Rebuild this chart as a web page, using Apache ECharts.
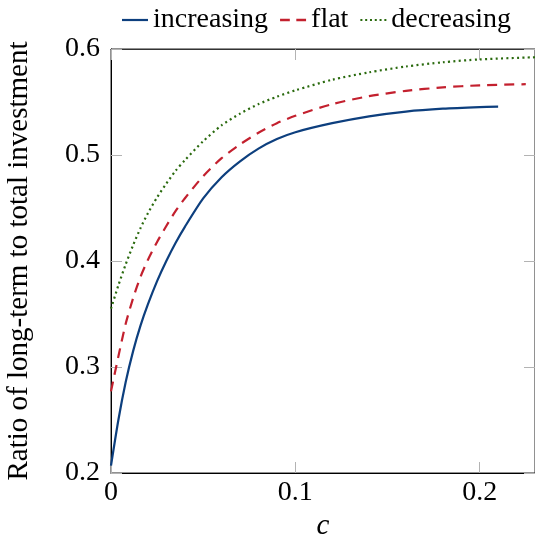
<!DOCTYPE html>
<html>
<head>
<meta charset="utf-8">
<script src="https://cdn.jsdelivr.net/npm/echarts@6/dist/echarts.min.js"></script>
<style>
  html, body { margin: 0; padding: 0; background: #fff; }
  #chart { width: 535px; height: 540px; }
</style>
</head>
<body>
<div id="chart"></div>
<script>
// Cost parameter c for each scenario
const cIncreasing = [0, 0.004, 0.008, 0.012, 0.016, 0.02, 0.025, 0.03, 0.035, 0.04, 0.05, 0.06, 0.07, 0.08, 0.09, 0.1, 0.12, 0.14, 0.16, 0.18, 0.2, 0.21];
const cFlat       = [0, 0.004, 0.008, 0.012, 0.016, 0.02, 0.025, 0.03, 0.035, 0.04, 0.05, 0.06, 0.07, 0.08, 0.09, 0.1, 0.12, 0.14, 0.16, 0.18, 0.2, 0.225];
const cDecreasing = [0, 0.004, 0.008, 0.012, 0.016, 0.02, 0.025, 0.03, 0.035, 0.04, 0.05, 0.06, 0.07, 0.08, 0.09, 0.1, 0.12, 0.14, 0.16, 0.18, 0.2, 0.23];

// Ratio of long-term to total investment
const ratioIncreasing = [0.207, 0.250, 0.286, 0.315, 0.339, 0.359, 0.381, 0.400, 0.417, 0.432, 0.459, 0.479, 0.494, 0.506, 0.515, 0.5215, 0.530, 0.5365, 0.541, 0.5437, 0.5452, 0.5456];
const ratioFlat       = [0.277, 0.310, 0.341, 0.365, 0.385, 0.401, 0.418, 0.433, 0.447, 0.459, 0.480, 0.497, 0.510, 0.521, 0.530, 0.537, 0.548, 0.5555, 0.5605, 0.5638, 0.5657, 0.5668];
const ratioDecreasing = [0.355, 0.377, 0.397, 0.415, 0.431, 0.445, 0.460, 0.473, 0.485, 0.495, 0.513, 0.528, 0.539, 0.548, 0.555, 0.561, 0.571, 0.578, 0.5835, 0.5875, 0.5902, 0.5922];

const seriesNames = ['increasing', 'flat', 'decreasing'];
const xTicks = [0, 0.1, 0.2];
const yTicks = [0.2, 0.3, 0.4, 0.5, 0.6];

const COLORS = ['#0d3f7e', '#c3202e', '#2a6a0e'];
// Legend keys: a solid bar, two dashes, a row of dots
const LEGEND_ICONS = [
  'path://M0,0h26v2.2h-26z',
  'path://M0,0h9v2.2h-9z M15,0h9v2.2h-9z',
  'path://M0,0h2v2h-2z M4.8,0h2v2h-2z M9.6,0h2v2h-2z M14.4,0h2v2h-2z M19.2,0h2v2h-2z M24,0h2v2h-2z'
];

const pairs = (xs, ys) => xs.map((x, i) => [x, ys[i]]);

const FONT = 'Liberation Serif';
const TICK_COLOR = '#b3b3b3';

const baseX = {
  type: 'value', min: 0, max: 0.23, interval: 0.1,
  splitLine: { show: false },
  axisLine: { show: true, onZero: false, lineStyle: { color: '#000', width: 1 } },
  axisTick: { show: true, inside: true, length: 11, lineStyle: { color: TICK_COLOR, width: 1 } }
};
const baseY = {
  type: 'value', min: 0.2, max: 0.6, interval: 0.1,
  splitLine: { show: false },
  axisLine: { show: true, onZero: false, lineStyle: { color: '#000', width: 1 } },
  axisTick: { show: true, inside: true, length: 11, lineStyle: { color: TICK_COLOR, width: 1 } }
};

const chart = echarts.init(document.getElementById('chart'), null, { renderer: 'canvas' });
chart.setOption({
  animation: false,
  backgroundColor: '#fff',
  textStyle: { fontFamily: FONT },
  grid: {
    left: 111, top: 49, right: 0, bottom: 67, containLabel: false, outerBoundsMode: 'none',
    show: true, borderColor: '#222', borderWidth: 1, backgroundColor: 'transparent'
  },
  legend: {
    top: 1, left: 117,
    data: seriesNames.map((n, i) => ({ name: n, icon: LEGEND_ICONS[i] })),
    itemWidth: 26, itemHeight: 14, itemGap: 12,
    textStyle: { fontFamily: FONT, fontSize: 28, color: '#000' }
  },
  xAxis: [
    Object.assign({}, baseX, {
      position: 'bottom',
      name: 'c', nameLocation: 'middle', nameGap: 39,
      nameTextStyle: { fontFamily: FONT, fontSize: 29, fontStyle: 'italic', color: '#000' },
      axisLabel: {
        show: true, margin: 6, fontSize: 28, color: '#000', fontFamily: FONT,
        formatter: v => (xTicks.some(t => Math.abs(t - v) < 1e-9) ? String(+v.toFixed(2)) : '')
      }
    }),
    Object.assign({}, baseX, {
      position: 'top', axisLabel: { show: false },
      axisLine: { show: true, onZero: false, lineStyle: { color: '#333', width: 1 } }
    })
  ],
  yAxis: [
    Object.assign({}, baseY, {
      position: 'left',
      name: 'Ratio of long-term to total investment', nameLocation: 'middle', nameGap: 77,
      nameTextStyle: { fontFamily: FONT, fontSize: 29, color: '#000' },
      axisLabel: {
        show: true, margin: 11, fontSize: 28, color: '#000', fontFamily: FONT,
        formatter: v => (yTicks.some(t => Math.abs(t - v) < 1e-9) ? v.toFixed(1) : '')
      }
    }),
    Object.assign({}, baseY, {
      position: 'right', axisLabel: { show: false }
    })
  ],
  series: [
    {
      name: seriesNames[0], type: 'line', symbol: 'none', smooth: 0.25,
      data: pairs(cIncreasing, ratioIncreasing),
      lineStyle: { color: COLORS[0], width: 2.2, type: 'solid' },
      itemStyle: { color: COLORS[0] }
    },
    {
      name: seriesNames[1], type: 'line', symbol: 'none', smooth: 0.25,
      data: pairs(cFlat, ratioFlat),
      lineStyle: { color: COLORS[1], width: 2.2, type: [10, 7] },
      itemStyle: { color: COLORS[1] }
    },
    {
      name: seriesNames[2], type: 'line', symbol: 'none', smooth: 0.25,
      data: pairs(cDecreasing, ratioDecreasing),
      lineStyle: { color: COLORS[2], width: 2.2, type: [2, 3.3] },
      itemStyle: { color: COLORS[2] }
    }
  ]
});
</script>
</body>
</html>
